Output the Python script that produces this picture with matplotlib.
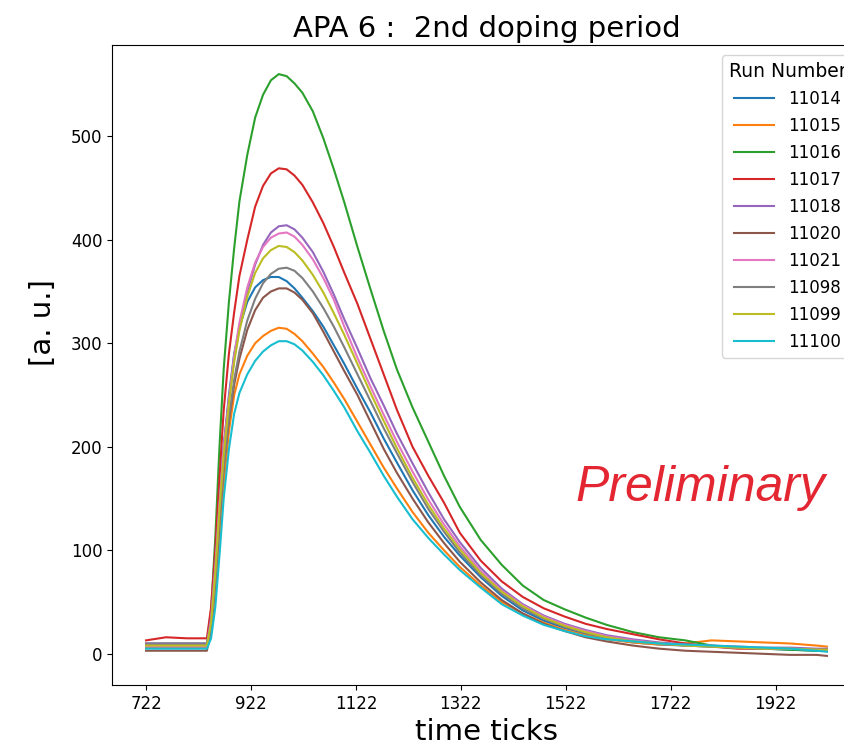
import matplotlib
matplotlib.use("Agg")
import matplotlib.pyplot as plt

time_ticks = [722, 760, 800, 838, 846, 854, 862, 870, 880, 890, 900, 915, 930, 945, 960,
              975, 990, 1005, 1020, 1040, 1060, 1080, 1100, 1125, 1150, 1175, 1200, 1230,
              1260, 1290, 1320, 1360, 1400, 1440, 1480, 1520, 1560, 1600, 1650, 1700, 1750,
              1800, 1850, 1900, 1950, 2000, 2020]

run_11014 = [6, 6, 6, 6, 30, 80, 145, 200, 250, 290, 315, 340, 354, 361, 364, 364, 360, 353,
             344, 331, 316, 298, 280, 256, 233, 208, 185, 158, 134, 113, 95, 74, 56, 42, 32,
             25, 19, 15, 11, 9, 8, 7, 6, 5, 4, 3, 3]
run_11015 = [7, 7, 7, 7, 22, 58, 112, 165, 215, 250, 270, 288, 300, 307, 312, 315, 314, 309,
             302, 290, 277, 262, 246, 224, 202, 180, 160, 137, 117, 100, 84, 66, 50, 39, 30,
             23, 18, 14, 11, 9, 10, 13, 12, 11, 10, 8, 7]
run_11016 = [10, 10, 10, 10, 42, 112, 200, 275, 340, 392, 437, 482, 518, 540, 554, 560, 558,
             551, 542, 524, 498, 468, 436, 393, 352, 312, 275, 238, 205, 172, 142, 110, 86, 66,
             52, 43, 35, 28, 21, 16, 13, 8, 6, 5, 4, 3, 3]
run_11017 = [13, 16, 15, 15, 45, 100, 170, 235, 290, 330, 365, 400, 432, 452, 464, 469, 468,
             462, 453, 436, 416, 393, 368, 338, 304, 270, 236, 200, 172, 146, 117, 90, 70, 55,
             44, 36, 29, 24, 19, 14, 10, 7, 5, 5, 5, 4, 4]
run_11018 = [10, 10, 10, 10, 35, 85, 145, 200, 245, 285, 315, 350, 376, 395, 407, 413, 414,
             410, 402, 388, 369, 347, 323, 295, 266, 240, 213, 184, 156, 130, 108, 83, 63, 48,
             37, 29, 23, 18, 14, 11, 9, 8, 7, 6, 6, 5, 5]
run_11020 = [3, 3, 3, 3, 25, 70, 130, 180, 225, 260, 285, 313, 332, 344, 350, 353, 353, 349,
             342, 329, 311, 292, 273, 250, 224, 198, 175, 150, 127, 107, 89, 69, 52, 39, 29,
             22, 16, 12, 8, 5, 3, 2, 1, 0, -1, -1, -2]
run_11021 = [7, 7, 7, 7, 32, 82, 143, 197, 246, 288, 320, 354, 378, 393, 402, 406, 407, 403,
             395, 381, 363, 342, 316, 286, 258, 231, 205, 176, 149, 125, 104, 80, 61, 47, 36,
             28, 22, 17, 13, 10, 8, 7, 6, 5, 5, 4, 3]
run_11098 = [9, 9, 9, 9, 28, 72, 130, 180, 228, 265, 292, 322, 343, 358, 367, 372, 373, 370,
             363, 350, 334, 316, 296, 270, 244, 218, 194, 166, 140, 118, 98, 76, 58, 44, 34,
             26, 20, 16, 12, 10, 8, 7, 6, 5, 5, 4, 4]
run_11099 = [8, 8, 8, 8, 30, 78, 140, 192, 242, 282, 312, 345, 368, 382, 390, 394, 393, 388,
             380, 366, 349, 329, 308, 280, 252, 225, 199, 170, 144, 121, 101, 78, 60, 46, 35,
             27, 21, 16, 12, 10, 8, 7, 6, 5, 5, 4, 4]
run_11100 = [5, 5, 5, 5, 15, 45, 95, 150, 198, 232, 252, 270, 283, 292, 298, 302, 302, 299,
             293, 282, 269, 254, 238, 215, 194, 172, 152, 130, 112, 96, 81, 64, 48, 37, 28,
             22, 17, 14, 12, 10, 9, 8, 7, 6, 5, 3, 2]

run_labels = ["11014", "11015", "11016", "11017", "11018", "11020", "11021",
              "11098", "11099", "11100"]
run_values = [run_11014, run_11015, run_11016, run_11017, run_11018, run_11020,
              run_11021, run_11098, run_11099, run_11100]
x_tick_values = [722, 922, 1122, 1322, 1522, 1722, 1922]
y_tick_values = [0, 100, 200, 300, 400, 500]

fig = plt.figure(figsize=(8.44, 7.49), dpi=100)
ax = fig.add_axes([112 / 844, 64 / 749, 749 / 844, 640 / 749])

for label, vals in zip(run_labels, run_values):
    ax.plot(time_ticks, vals, linewidth=1.5, label=label)

ax.set_xticks(x_tick_values)
ax.set_yticks(y_tick_values)
ax.tick_params(labelsize=12)
ax.set_xlabel("time ticks", fontsize=21)
ax.set_ylabel("[a. u.]", fontsize=21)
ax.yaxis.set_label_coords(-0.073, 0.566)
ax.set_title("APA 6 :  2nd doping period", fontsize=21)

ax.legend(title="Run Number", loc="upper left", bbox_to_anchor=(0.8144, 0.984),
          borderaxespad=0, fontsize=12, title_fontsize=13.5, handlelength=2.4,
          labelspacing=0.54)

ax.text(1540, 148, "Preliminary", fontsize=36, style="italic",
        family="Liberation Sans", color="#e32631", ha="left", va="baseline")

fig.savefig("out.png", dpi=100)
